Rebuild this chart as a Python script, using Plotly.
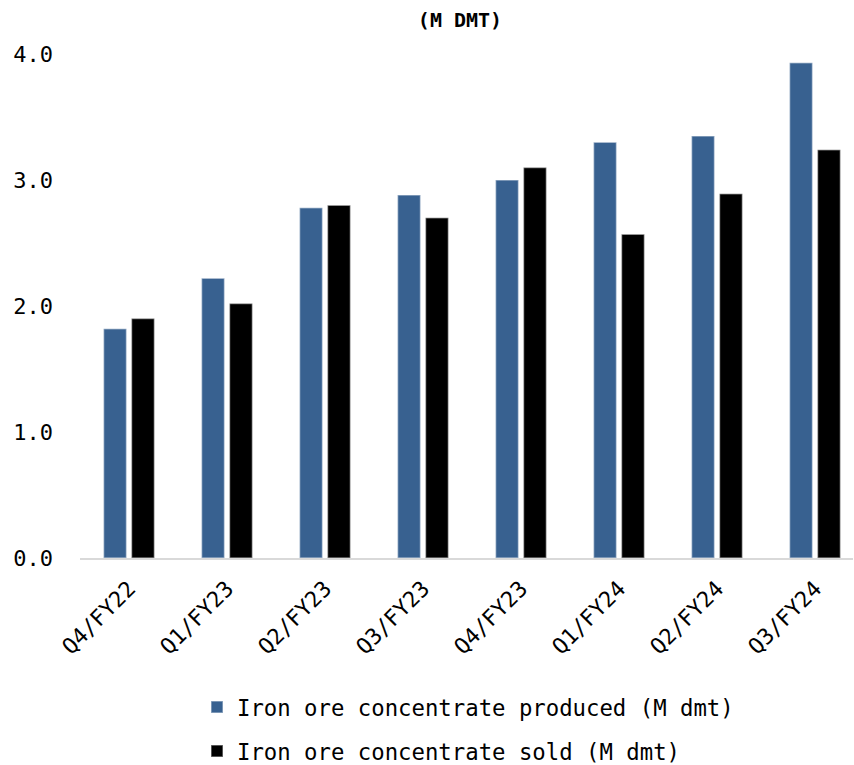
import plotly.graph_objects as go

# Quarterly iron ore concentrate volumes (million dry metric tonnes)
quarters = ["Q4/FY22", "Q1/FY23", "Q2/FY23", "Q3/FY23", "Q4/FY23", "Q1/FY24", "Q2/FY24", "Q3/FY24"]
produced = [1.82, 2.22, 2.78, 2.88, 3.00, 3.30, 3.35, 3.93]
sold = [1.90, 2.02, 2.80, 2.70, 3.10, 2.57, 2.89, 3.24]
y_ticks = [0.0, 1.0, 2.0, 3.0, 4.0]
y_tick_labels = ["0.0", "1.0", "2.0", "3.0", "4.0"]

FONT = "DejaVu Sans Mono, monospace"
W, H = 854, 765
left, right, top, bottom = 80, 1, 54, 207
plot_w = W - left - right
plot_h = H - top - bottom
cat_px = 98.0  # pixel width of one category slot

fig = go.Figure()
fig.add_trace(go.Bar(
    x=quarters, y=produced, name="Iron ore concentrate produced (M dmt)",
    marker=dict(color="#386190", line=dict(color="rgba(255,255,255,0.45)", width=1.5)),
    legendgroup="a",
))
fig.add_trace(go.Bar(
    x=quarters, y=sold, name="Iron ore concentrate sold (M dmt)",
    marker=dict(color="#000000", line=dict(color="rgba(255,255,255,0.45)", width=1.5)),
    legendgroup="b",
))

fig.update_layout(
    width=W, height=H,
    margin=dict(l=left, r=right, t=top, b=bottom, pad=0, autoexpand=False),
    paper_bgcolor="white", plot_bgcolor="white",
    barmode="group", bargap=0.43, bargroupgap=0.18,
    font=dict(family=FONT, color="#000000", size=22),
    title=dict(
        text="<b>(M DMT)</b>", x=460 / W, xref="container", xanchor="center",
        y=1 - 20 / H, yref="container", yanchor="middle",
        font=dict(family=FONT, size=20, color="#000000"),
    ),
    xaxis=dict(
        type="category", range=[-0.5, -0.5 + plot_w / cat_px],
        tickangle=-45, tickfont=dict(size=22), showgrid=False,
        showline=True, linecolor="#d9d9d9", linewidth=2, ticks="",
        ticklabelstandoff=7,
    ),
    yaxis=dict(
        range=[0, 4], tickvals=y_ticks, ticktext=y_tick_labels,
        showgrid=False, zeroline=False, showline=False, ticks="",
        tickfont=dict(size=22), ticklabelstandoff=26,
    ),
    legend=dict(
        x=(197 - left) / plot_w, xanchor="left",
        y=-(686 - (H - bottom)) / plot_h, yanchor="top",
        orientation="v", tracegroupgap=12,
        font=dict(family=FONT, size=22.3), bgcolor="rgba(0,0,0,0)",
    ),
    showlegend=True,
)

fig.write_html("out.html")
